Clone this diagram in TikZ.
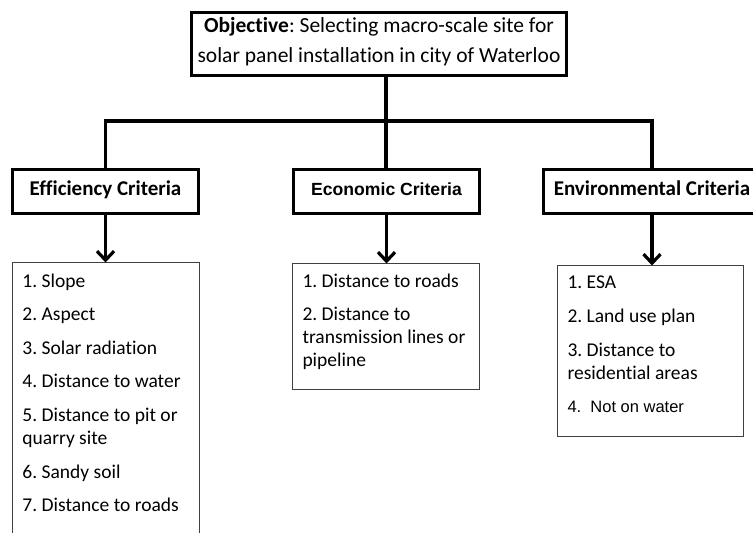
\documentclass[tikz,border=0pt]{standalone}
\usepackage{fontspec}
\setmainfont{Carlito}[RawFeature={-liga}]
\newfontfamily\arialfont{Liberation Sans}
\usetikzlibrary{arrows.meta}
\frenchspacing
\hyphenpenalty=10000
\begin{document}
\begin{tikzpicture}[x=1pt,y=-1pt,
  natspace/.style={execute at begin node={\spaceskip=0pt\xspaceskip=0pt\relax}},
  heavy/.style={draw=black, line width=3.2pt},
  hdrbox/.style={heavy, rectangle, minimum height=44pt, inner sep=0pt, outer sep=0pt,
    text height=15pt, text depth=8pt, font=\fontsize{21}{25}\bfseries\selectfont},
  listbox/.style={draw=black!75, line width=1.3pt, rectangle, anchor=north west,
    outer sep=0pt, inner xsep=10pt, inner ysep=10pt, align=flush left, natspace,
    font=\fontsize{19.5}{23}\selectfont},
  link/.style={line width=3.2pt},
  arr/.style={line width=3.2pt, -{Straight Barb[length=9pt,width=17pt]}}]
\useasboundingbox (0,0) rectangle (753,533);

% goal
\node[heavy, rectangle, minimum width=375pt, minimum height=63.5pt, inner sep=0pt,
  outer sep=0pt, align=center, natspace, font=\fontsize{21.5}{30}\selectfont] (obj) at (379,44)
  {\rule{0pt}{16pt}\textbf{Objective}: Selecting macro-scale site for\\
   solar panel installation in city of Waterloo\rule[-10pt]{0pt}{10pt}};

% criteria groups
\node[hdrbox, minimum width=186pt] (effhdr) at (105.5,191.5) {Efficiency Criteria};
\node[hdrbox, minimum width=186pt, font=\arialfont\fontsize{17.6}{20}\bfseries\selectfont]
  (ecohdr) at (386.5,191.5) {Economic Criteria};
\node[hdrbox, minimum width=217pt] (envhdr) at (652,191.5) {Environmental Criteria};

% factor lists
\node[listbox, text width=167pt] (efflist) at (12.5,262.5)
  {\rule{0pt}{14.5pt}1. Slope\\[10.6pt]
   2. Aspect\\[10.6pt]
   3. Solar radiation\\[10.6pt]
   4. Distance to water\\[10.6pt]
   5. Distance to pit or\\
   quarry site\\[10.6pt]
   6. Sandy soil\\[10.6pt]
   7. Distance to roads\rule[-23pt]{0pt}{23pt}};
\node[listbox, text width=167pt] (ecolist) at (292.5,263.5)
  {\rule{0pt}{13.5pt}1. Distance to roads\\[10.6pt]
   2. Distance to\\
   transmission lines or\\
   pipeline\rule[-12.9pt]{0pt}{12.9pt}};
\node[listbox, text width=166pt] (envlist) at (557.5,265.5)
  {\rule{0pt}{12.5pt}1. ESA\\[11pt]
   2. Land use plan\\[11pt]
   3. Distance to\\
   residential areas\\[10pt]
   {\arialfont\fontsize{16.5}{23}\selectfont 4.\ \ Not on water}\rule[-14.5pt]{0pt}{14.5pt}};

% tree connectors
\coordinate (tee) at (386,121);
\draw[link] (tee |- obj.south) -- (tee);
\draw[link] (effhdr.north) |- (tee) -| (envhdr.north);
\draw[link] (tee) -- (ecohdr.north -| tee);

% arrows to the lists
\draw[arr] (effhdr.south) -- (effhdr.south |- efflist.north);
\draw[arr] (ecohdr.south) -- (ecohdr.south |- ecolist.north);
\draw[arr] (envhdr.south) -- (envhdr.south |- envlist.north);
\end{tikzpicture}
\end{document}
